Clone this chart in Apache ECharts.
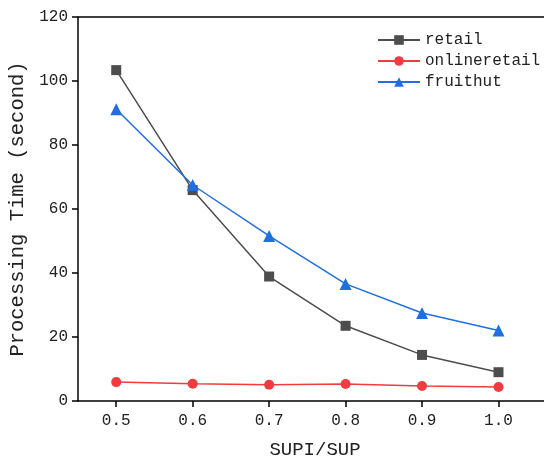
<!DOCTYPE html>
<html>
<head>
<meta charset="utf-8">
<script src="https://cdn.jsdelivr.net/npm/echarts@6/dist/echarts.min.js"></script>
<style>
  html, body { margin: 0; padding: 0; background: #fff; }
  #chart { width: 544px; height: 460px; }
</style>
</head>
<body>
<div id="chart"></div>
<script>
const supRatio = [0.5, 0.6, 0.7, 0.8, 0.9, 1.0]
const retail = [103.4, 65.9, 38.9, 23.5, 14.4, 9.0]
const onlineretail = [5.9, 5.4, 5.1, 5.3, 4.7, 4.4]
const fruithut = [91.2, 67.5, 51.6, 36.6, 27.5, 22.0]
const yTicks = [0, 20, 40, 60, 80, 100, 120]

const font = '"Liberation Mono", monospace'
const chart = echarts.init(document.getElementById('chart'))

const pairs = arr => supRatio.map((x, i) => [x, arr[i]])

const makeSeries = (name, data, symbol, color, size) => ({
  name,
  type: 'line',
  data: pairs(data),
  symbol,
  symbolSize: size,
  lineStyle: { color, width: 1.5 },
  itemStyle: { color },
  emphasis: { disabled: true }
})

chart.setOption({
  animation: false,
  textStyle: { fontFamily: font },
  grid: { left: 78, width: 474, top: 17, bottom: 59, outerBoundsMode: 'none', containLabel: false },
  legend: {
    orient: 'vertical',
    left: 372,
    top: 27,
    itemWidth: 42,
    itemHeight: 12,
    itemGap: 5,
    textStyle: { fontFamily: font, fontSize: 16, color: '#222' },
    data: ['retail', 'onlineretail', 'fruithut']
  },
  xAxis: {
    type: 'value',
    min: 0.45,
    max: 1.07,
    name: 'SUPI/SUP',
    nameLocation: 'middle',
    nameGap: 39,
    nameTextStyle: { fontFamily: font, fontSize: 19, color: '#222' },
    axisLine: { lineStyle: { color: '#000', width: 1.5 } },
    axisTick: { customValues: supRatio, length: 6, lineStyle: { color: '#000', width: 1.5 } },
    axisLabel: {
      customValues: supRatio,
      formatter: v => v.toFixed(1),
      fontFamily: font, fontSize: 16, color: '#222', margin: 12
    },
    splitLine: { show: false }
  },
  yAxis: {
    type: 'value',
    min: 0,
    max: 120,
    interval: 20,
    name: 'Processing Time (second)',
    nameLocation: 'middle',
    nameGap: 43,
    nameTextStyle: { fontFamily: font, fontSize: 20.5, color: '#222' },
    axisLine: { show: true, lineStyle: { color: '#000', width: 1.5 } },
    axisTick: { show: true, length: 6, lineStyle: { color: '#000', width: 1.5 } },
    axisLabel: {
      customValues: yTicks,
      fontFamily: font, fontSize: 16, color: '#222', margin: 10
    },
    splitLine: { show: false }
  },
  series: [
    makeSeries('retail', retail, 'rect', '#4d4d4d', 10),
    makeSeries('onlineretail', onlineretail, 'circle', '#f03c40', 10),
    makeSeries('fruithut', fruithut, 'triangle', '#1f6fe0', 12),
    {
      type: 'line',
      silent: true,
      data: [],
      markLine: {
        silent: true,
        symbol: 'none',
        label: { show: false },
        lineStyle: { color: '#000', width: 1.5, type: 'solid' },
        data: [{ yAxis: 120 }]
      }
    }
  ]
})
</script>
</body>
</html>
